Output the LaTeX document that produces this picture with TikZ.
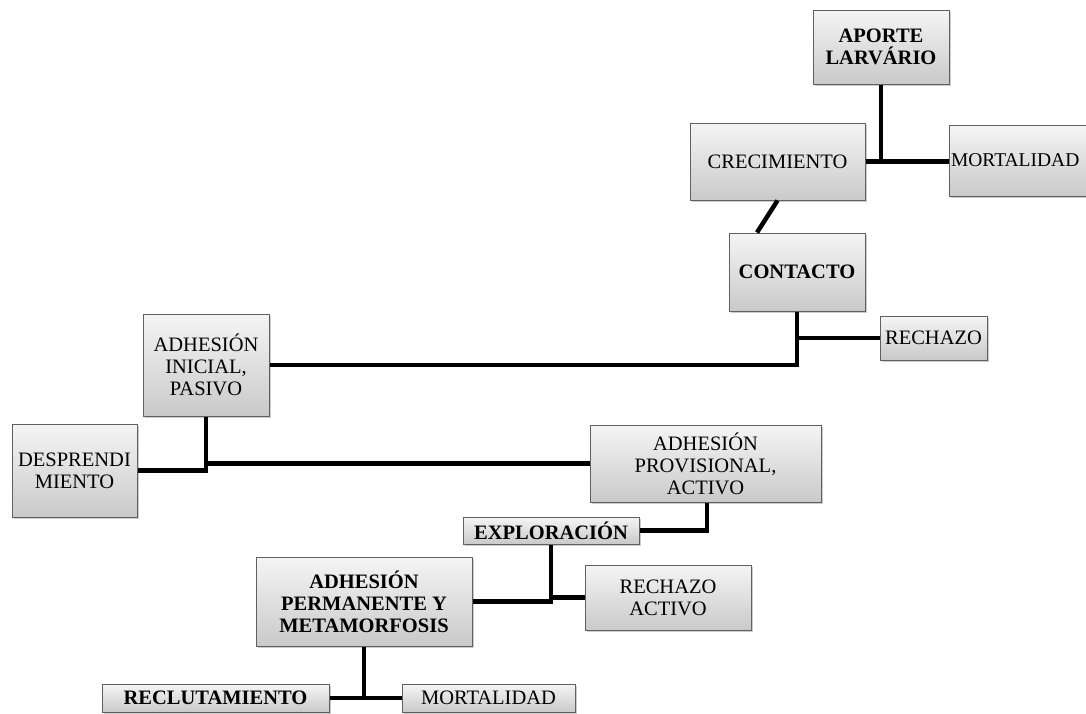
\documentclass[tikz,border=0pt]{standalone}
\usepackage{fontspec}
\setmainfont{Liberation Serif}
\usetikzlibrary{shadows,calc}
\tikzset{
  box/.style={draw=gray!75!black, line width=1pt, top color=gray!8, bottom color=gray!42,
    align=center, inner sep=0pt, font=\fontsize{20.5}{22}\selectfont,
    drop shadow={shadow xshift=1.5pt, shadow yshift=-2pt, opacity=0.4}},
  bbox/.style={box, font=\fontsize{20.5}{22}\selectfont\bfseries},
  link/.style={line width=4.5pt, black}
}
\begin{document}
\begin{tikzpicture}[x=1pt, y=-1pt]
\useasboundingbox (0,0) rectangle (1086,713);

% stages of the settlement process
\node[bbox, minimum width=136, minimum height=74] (aporte) at (881,47) {APORTE\\LARVÁRIO};
\node[box, minimum width=175, minimum height=77] (crec) at (777.5,161.5) {CRECIMIENTO};
\node[box, minimum width=146, minimum height=71, text width=142, align=left, inner xsep=2pt,
      font=\fontsize{19.5}{22}\selectfont] (mortA) at (1022,160.5) {MORTALIDAD};
\node[bbox, minimum width=136, minimum height=78] (contacto) at (797,272) {CONTACTO};
\node[box, minimum width=107, minimum height=44] (rechazo) at (933.5,338) {RECHAZO};
\node[box, minimum width=126, minimum height=102] (inicial) at (206,365) {ADHESIÓN\\INICIAL,\\PASIVO};
\node[box, minimum width=125, minimum height=93] (desp) at (74.5,470.5) {DESPRENDI\\MIENTO};
\node[box, minimum width=231, minimum height=77] (prov) at (705.5,463.5) {ADHESIÓN\\PROVISIONAL,\\ACTIVO};
\node[bbox, minimum width=176, minimum height=27] (expl) at (551,530.5) {EXPLORACIÓN};
\node[box, minimum width=166, minimum height=65] (rechAct) at (668,597.5) {RECHAZO\\ACTIVO};
\node[bbox, minimum width=216, minimum height=89] (perm) at (364,601.5) {ADHESIÓN\\PERMANENTE Y\\METAMORFOSIS};
\node[bbox, minimum width=227, minimum height=28] (recl) at (215.5,698) {RECLUTAMIENTO};
\node[box, minimum width=173, minimum height=28] (mortB) at (488.5,698) {MORTALIDAD};

% connectors
\draw[link] (aporte.south) -- (aporte.south |- crec.east);
\draw[link] (crec.east) -- (mortA.west |- crec.east);
\draw[link] (crec.south) -- ($(contacto.north)+(-40,0)$);
\draw[link] (contacto.south) -- (contacto.south |- inicial.east) -- (inicial.east);
\draw[link] (contacto.south |- rechazo.west) -- (rechazo.west);
\draw[link] (inicial.south) -- (inicial.south |- desp.east) -- (desp.east);
\draw[link] (inicial.south |- prov.west) -- (prov.west);
\draw[link] ($(prov.south)+(1.5,0)$) -- ($(prov.south |- expl.east)+(1.5,0)$) -- (expl.east);
\draw[link] (perm.east) -- (expl.south |- perm.east) -- (expl.south);
\draw[link] (expl.south |- rechAct.west) -- (rechAct.west);
\draw[link] (perm.south) -- (perm.south |- recl.east);
\draw[link] (recl.east) -- (mortB.west);
\end{tikzpicture}
\end{document}
